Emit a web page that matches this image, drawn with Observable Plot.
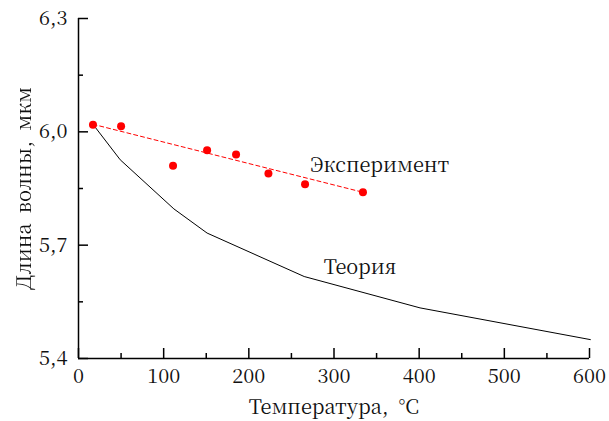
<!DOCTYPE html>
<html><head><meta charset="utf-8">
<script src="https://cdn.jsdelivr.net/npm/d3@7"></script>
<script src="https://cdn.jsdelivr.net/npm/@observablehq/plot@0.6"></script>
<style>body{margin:0;background:#fff}</style>
</head><body><div id="chart"></div>
<script>
const expTemp = [17, 50, 111, 151, 185, 223, 266, 334];
const expLen = [6.019, 6.015, 5.910, 5.951, 5.940, 5.890, 5.861, 5.840];
const trendTemp = [17, 334];
const trendLen = [6.02, 5.84];
const theoryTemp = [18, 49, 112, 151, 265, 401, 601];
const theoryLen = [6.017, 5.926, 5.796, 5.732, 5.617, 5.534, 5.450];
const xTicks = [0, 100, 200, 300, 400, 500, 600];
const xMinor = [50, 150, 250, 350, 450, 550];
const yTicks = [5.4, 5.7, 6.0, 6.3];
const yTickLabels = ["5,4", "5,7", "6,0", "6,3"];
const yMinor = [5.55, 5.85, 6.15];
const labels = [
  {t: 272, v: 5.911, text: "Эксперимент"},
  {t: 288, v: 5.641, text: "Теория"}
];
const xTitle = "Температура,\u2002°C";
const yTitle = "Длина\u00a0\u00a0волны,\u00a0\u00a0мкм";

const exp = expTemp.map((t, i) => ({t, v: expLen[i]}));
const trend = trendTemp.map((t, i) => ({t, v: trendLen[i]}));
const theory = theoryTemp.map((t, i) => ({t, v: theoryLen[i]}));
const font = "Noto Serif CJK SC";

const chart = Plot.plot({
  width: 609, height: 421,
  marginLeft: 78, marginRight: 20, marginTop: 18, marginBottom: 63,
  style: {fontFamily: font, fontSize: "20px", color: "black", background: "#fff"},
  x: {domain: [0, 600]},
  y: {domain: [5.4, 6.3]},
  marks: [
    Plot.axisX(xTicks, {tickSize: -10, text: null, label: null, strokeWidth: 1.5}),
    Plot.axisX(xMinor, {tickSize: -5, text: null, label: null, strokeWidth: 1.5}),
    Plot.axisX(xTicks, {tickSize: 0, tickPadding: 10, fontSize: 20, fontFamily: font, fill: "#111", label: xTitle, labelAnchor: "center", labelArrow: "none", labelOffset: 55}),
    Plot.axisY(yTicks, {tickSize: -10, text: null, label: null, strokeWidth: 1.5}),
    Plot.axisY(yMinor, {tickSize: -5, text: null, label: null, strokeWidth: 1.5}),
    Plot.axisY(yTicks, {tickSize: 0, tickPadding: 11, fontSize: 20, fontFamily: font, fill: "#111", tickFormat: (d, i) => yTickLabels[i], label: yTitle, labelAnchor: "center", labelArrow: "none", labelOffset: 62}),
    Plot.ruleX([0], {stroke: "black", strokeWidth: 1.5}),
    Plot.ruleY([5.4], {stroke: "black", strokeWidth: 1.5}),
    Plot.line(theory, {x: "t", y: "v", stroke: "black", strokeWidth: 1}),
    Plot.line(trend, {x: "t", y: "v", stroke: "#ff0000", strokeWidth: 1, strokeDasharray: "4,3"}),
    Plot.dot(exp, {x: "t", y: "v", r: 4, fill: "#ff0000", stroke: "none"}),
    Plot.text(labels, {x: "t", y: "v", text: "text", textAnchor: "start", fontSize: 20, fontFamily: font, fill: "#111"})
  ]
});
d3.select(chart).selectAll('[aria-label="y-axis label"]').style("filter", "grayscale(1)").attr("fill", "#111");
document.getElementById("chart").append(chart);
</script>
</body></html>
